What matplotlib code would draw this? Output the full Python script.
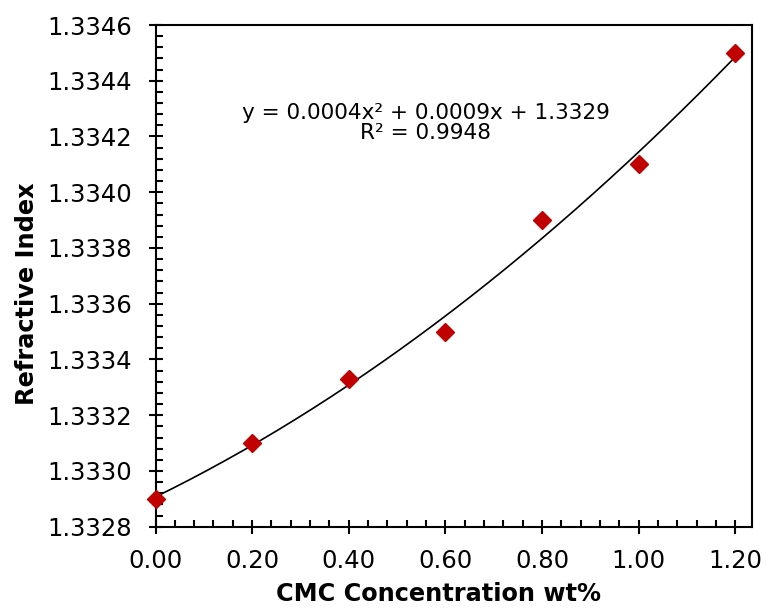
import numpy as np
import matplotlib
matplotlib.use("Agg")
import matplotlib.pyplot as plt
from matplotlib.ticker import MultipleLocator, FormatStrFormatter

# Data
conc = [0.0, 0.2, 0.4, 0.6, 0.8, 1.0, 1.2]
ri = [1.3329, 1.3331, 1.33333, 1.3335, 1.3339, 1.3341, 1.3345]
eq_text = "y = 0.0004x² + 0.0009x + 1.3329\nR² = 0.9948"
x_label = "CMC Concentration wt%"
y_label = "Refractive Index"

plt.rcParams['font.family'] = ['DejaVu Sans']

W, H = 766, 608
fig = plt.figure(figsize=(W / 100, H / 100), dpi=100)
L, R, T, B = 155.5, 751.7, 25, 526.7
ax = fig.add_axes([L / W, 1 - B / H, (R - L) / W, (B - T) / H])

coef = np.polyfit(conc, ri, 2)
xs = np.linspace(0, 1.2, 200)
ax.plot(xs, np.polyval(coef, xs), color='black', lw=1.2, zorder=2)
ax.plot(conc, ri, linestyle='none', marker='D', color='#C00000',
        markersize=8.8, zorder=3, clip_on=False)

ax.set_xlim(0, 1.2336)
ax.set_ylim(1.3328, 1.3346)
ax.xaxis.set_major_locator(MultipleLocator(0.2))
ax.xaxis.set_minor_locator(MultipleLocator(0.04))
ax.yaxis.set_major_locator(MultipleLocator(0.0002))
ax.yaxis.set_minor_locator(MultipleLocator(0.00004))
ax.xaxis.set_major_formatter(FormatStrFormatter('%.2f'))
ax.yaxis.set_major_formatter(FormatStrFormatter('%.4f'))

for s in ax.spines.values():
    s.set_linewidth(1.5)
ax.tick_params(which='major', direction='inout', length=10, width=1.5,
               labelsize=17.5, colors='black')
ax.tick_params(axis='y', which='major', pad=12)
ax.tick_params(axis='x', which='major', pad=11)
ax.tick_params(which='minor', direction='in', length=5, width=1.5)

fig.text(426 / W, 1 - 123 / H, eq_text, ha='center', va='center',
         fontsize=15.6, linespacing=1.0)
fig.text(439 / W, 1 - 601 / H, x_label, ha='center', va='baseline',
         fontsize=17.3, fontweight='bold')
fig.text(27.5 / W, 1 - 294 / H, y_label, ha='center', va='center',
         fontsize=17.3, fontweight='bold', rotation=90)

fig.savefig('out.png', dpi=100)
